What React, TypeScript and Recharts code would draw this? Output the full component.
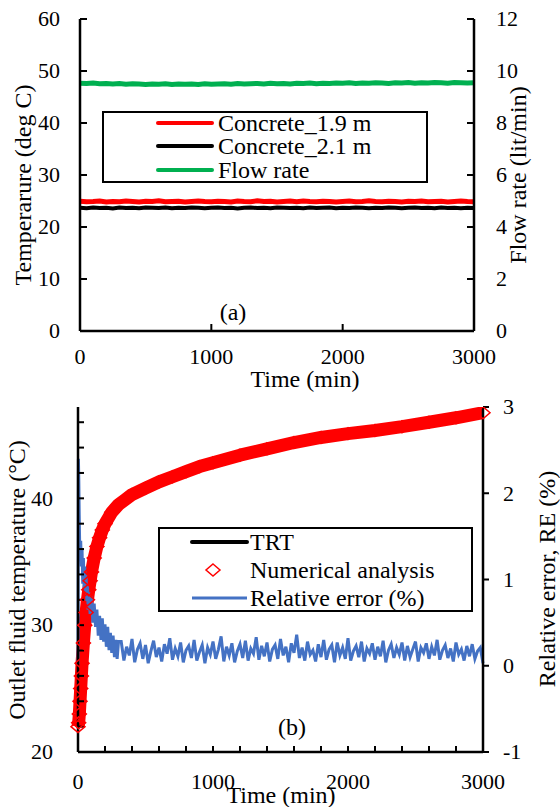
import React from 'react';
import { LineChart, Line, XAxis, YAxis, Legend } from 'recharts';

const FONT = '"Liberation Serif", "Times New Roman", serif';

// ---- (a) concrete temperature and flow rate
const timeA = [
  0, 50, 100, 150, 200, 250, 300, 350, 400, 450, 500, 550, 600, 650, 700, 750, 800, 850, 900, 950,
  1000, 1050, 1100, 1150, 1200, 1250, 1300, 1350, 1400, 1450, 1500, 1550, 1600, 1650, 1700, 1750,
  1800, 1850, 1900, 1950, 2000, 2050, 2100, 2150, 2200, 2250, 2300, 2350, 2400, 2450, 2500, 2550,
  2600, 2650, 2700, 2750, 2800, 2850, 2900, 2950, 3000,
];
const concrete19 = [
  24.95, 24.85, 24.9, 25.0, 24.8, 24.9, 24.85, 25.0, 24.9, 24.8,
  24.95, 24.9, 25.05, 24.85, 24.9, 24.95, 24.8, 24.9, 25.0, 24.9,
  24.85, 24.95, 24.9, 24.8, 25.0, 24.9, 24.85, 25.05, 24.9, 24.95,
  24.8, 24.9, 25.0, 24.85, 25.0, 24.9, 24.85, 24.95, 24.9, 24.8,
  24.9, 25.0, 24.85, 24.9, 25.05, 24.9, 24.85, 24.95, 24.9, 24.8,
  24.95, 24.9, 25.0, 24.85, 24.9, 24.95, 24.8, 24.9, 25.0, 24.9,
  24.85,
];
const concrete21 = [
  23.7, 23.6, 23.75, 23.65, 23.7, 23.55, 23.75, 23.65, 23.7, 23.6,
  23.75, 23.7, 23.65, 23.75, 23.6, 23.7, 23.65, 23.75, 23.7, 23.6,
  23.7, 23.75, 23.65, 23.7, 23.55, 23.7, 23.75, 23.65, 23.7, 23.6,
  23.75, 23.7, 23.65, 23.7, 23.6, 23.75, 23.65, 23.7, 23.75, 23.6,
  23.7, 23.65, 23.75, 23.7, 23.6, 23.7, 23.65, 23.75, 23.7, 23.6,
  23.7, 23.75, 23.65, 23.7, 23.6, 23.75, 23.65, 23.7, 23.6, 23.7,
  23.65,
];
const flowRate = [
  9.53, 9.52, 9.54, 9.51, 9.52, 9.5, 9.52, 9.49, 9.51, 9.5,
  9.48, 9.5, 9.49, 9.51, 9.48, 9.5, 9.49, 9.5, 9.48, 9.51,
  9.49, 9.5, 9.51, 9.49, 9.52, 9.5, 9.51, 9.52, 9.5, 9.53,
  9.51, 9.52, 9.5, 9.53, 9.52, 9.54, 9.51, 9.53, 9.52, 9.54,
  9.53, 9.55, 9.52, 9.54, 9.53, 9.55, 9.54, 9.52, 9.55, 9.54,
  9.56, 9.53, 9.55, 9.54, 9.56, 9.55, 9.53, 9.56, 9.55, 9.54,
  9.55,
];
const tempTicksA = [0, 10, 20, 30, 40, 50, 60];
const flowTicksA = [0, 2, 4, 6, 8, 10, 12];
const timeTicksA = [0, 1000, 2000, 3000];

// ---- (b) outlet temperature and relative error
const numTime = [
  0, 5, 10, 15, 20, 25, 30, 40, 50, 60, 70, 80, 90, 100, 120, 140, 160, 180, 200, 250, 300, 350,
  400, 500, 600, 700, 800, 900, 1000, 1200, 1400, 1600, 1800, 2000, 2200, 2400, 2600, 2800, 3000,
];
const numTemp = [
  22.0, 22.3, 23.0, 24.0, 25.0, 26.0, 27.0, 28.6, 30.0, 31.0, 32.0, 32.8, 33.5, 34.2, 35.3, 36.2,
  36.9, 37.5, 38.0, 38.9, 39.5, 39.9, 40.3, 40.8, 41.3, 41.7, 42.1, 42.5, 42.8, 43.4, 43.9, 44.4,
  44.8, 45.1, 45.35, 45.65, 46.0, 46.35, 46.75,
];
const trtTime = [0, 10, 20, 30, 40, 50, 60, 80, 100, 150, 200, 300, 400, 600, 800, 1000, 1500, 2000, 2500, 3000];
const trtTemp = [
  22.2, 23.2, 25.1, 27.2, 28.8, 30.1, 31.1, 32.9, 34.3, 36.7, 38.1, 39.6, 40.4, 41.4, 42.2, 42.9,
  44.2, 45.2, 46.0, 46.8,
];
const reTime = [
  0, 3, 6, 9, 12, 15, 20, 25, 30, 35, 40, 45, 50, 55, 60, 65, 70, 75, 80,
  90, 100, 110, 120, 130, 140, 150, 160, 170, 180, 190, 200, 210, 220, 230, 240, 250, 260, 270, 280, 290, 300,
  320, 340, 360, 380, 400, 420, 440, 460, 480, 500,
  520, 540, 560, 580, 600, 620, 640, 660, 680, 700,
  720, 740, 760, 780, 800, 820, 840, 860, 880, 900,
  920, 940, 960, 980, 1000, 1020, 1040, 1060, 1080, 1100,
  1120, 1140, 1160, 1180, 1200, 1220, 1240, 1260, 1280, 1300,
  1320, 1340, 1360, 1380, 1400, 1420, 1440, 1460, 1480, 1500,
  1520, 1540, 1560, 1580, 1600, 1620, 1640, 1660, 1680, 1700,
  1720, 1740, 1760, 1780, 1800, 1820, 1840, 1860, 1880, 1900,
  1920, 1940, 1960, 1980, 2000, 2020, 2040, 2060, 2080, 2100,
  2120, 2140, 2160, 2180, 2200, 2220, 2240, 2260, 2280, 2300,
  2320, 2340, 2360, 2380, 2400, 2420, 2440, 2460, 2480, 2500,
  2520, 2540, 2560, 2580, 2600, 2620, 2640, 2660, 2680, 2700,
  2720, 2740, 2760, 2780, 2800, 2820, 2840, 2860, 2880, 2900,
  2920, 2940, 2960, 2980, 3000,
];
const reValue = [
  0.02, 2.4, 2.15, 1.75, 1.45, 1.3, 1.45, 1.15, 1.35, 0.95, 1.25, 0.9, 1.15, 0.85, 1.05, 0.75, 0.95, 0.65, 0.85,
  0.6, 0.8, 0.5, 0.72, 0.45, 0.65, 0.35, 0.58, 0.3, 0.55, 0.28, 0.48, 0.22, 0.45, 0.18, 0.38, 0.15, 0.35, 0.1, 0.3, 0.08, 0.28,
  0.28, 0.06, 0.22, 0.12, 0.31, 0.04, 0.19, 0.26, 0.08, 0.24, 0.03, 0.17, 0.29, 0.1, 0.21,
  0.05, 0.25, 0.14, 0.32, 0.07, 0.2, 0.11, 0.27, 0.04, 0.18, 0.23, 0.09, 0.3, 0.06, 0.16,
  0.24, 0.03, 0.21, 0.13, 0.28, 0.08, 0.19, 0.34, 0.05, 0.22, 0.12, 0.26, 0.04, 0.17, 0.25,
  0.09, 0.29, 0.06, 0.2, 0.14, 0.33, 0.07, 0.23, 0.11, 0.27, 0.05, 0.19, 0.24, 0.08, 0.31,
  0.12, 0.22, 0.04, 0.26, 0.15, 0.36, 0.09, 0.21, 0.06, 0.28, 0.13, 0.18, 0.05, 0.25, 0.1,
  0.3, 0.07, 0.19, 0.24, 0.04, 0.27, 0.12, 0.21, 0.08, 0.32, 0.06, 0.17, 0.23, 0.1, 0.28,
  0.05, 0.2, 0.14, 0.26, 0.07, 0.22, 0.11, 0.29, 0.04, 0.18, 0.25, 0.09, 0.21, 0.13, 0.27,
  0.06, 0.23, 0.1, 0.19, 0.28, 0.05, 0.21, 0.15, 0.26, 0.08, 0.22, 0.12, 0.3, 0.07, 0.18,
  0.24, 0.09, 0.2, 0.05, 0.27, 0.13, 0.19, 0.06, 0.23, 0.11, 0.25, 0.08, 0.17, 0.21, 0.03,
];
const tempTicksB = [20, 22, 24, 26, 28, 30, 32, 34, 36, 38, 40, 42, 44, 46];
const tempLabelsB = [20, 30, 40];
const reTicksB = [-1, 0, 1, 2, 3];
const timeTicksB = [0, 200, 400, 600, 800, 1000, 1200, 1400, 1600, 1800, 2000, 2200, 2400, 2600, 2800, 3000];
const timeLabelsB = [0, 1000, 2000, 3000];

const dataA = timeA.map((t, i) => ({ t, c19: concrete19[i], c21: concrete21[i], flow: flowRate[i] }));
const numData = numTime.map((t, i) => ({ t, v: numTemp[i] }));
const trtData = trtTime.map((t, i) => ({ t, v: trtTemp[i] }));
const reData = reTime.map((t, i) => ({ t, v: reValue[i] }));

const axisLine = { stroke: '#000', strokeWidth: 2.5 };
const tickLine = { stroke: '#000', strokeWidth: 2 };

const tickText = (anchor: 'start' | 'middle' | 'end', show?: number[]) => (p: any) => {
  const v = p.payload.value;
  if (show && !show.includes(v)) return <g />;
  return (
    <text x={p.x} y={p.y} dy="0.33em" textAnchor={anchor} fontSize={22} fontFamily={FONT} fill="#000">
      {v}
    </text>
  );
};

const vTitle = (text: string, x: number, cy: number) => () => (
  <text
    x={x}
    y={cy}
    dy="0.35em"
    transform={`rotate(-90 ${x} ${cy})`}
    textAnchor="middle"
    fontSize={24}
    fontFamily={FONT}
    fill="#000"
  >
    {text}
  </text>
);

// x title plus the panel tag, both placed inside the chart svg
const hTitle = (text: string, cx: number, cy: number, tag: string, tx: number, ty: number) => () => (
  <g fontSize={24} fontFamily={FONT} fill="#000">
    <text x={cx} y={cy} dy="0.3em" textAnchor="middle">{text}</text>
    <text x={tx} y={ty} dy="0.3em" textAnchor="middle">{tag}</text>
  </g>
);

const Diamond = (p: any) => {
  const { cx, cy } = p;
  if (cx == null || cy == null) return <g />;
  return (
    <path
      d={`M${cx},${cy - 6} L${cx + 7},${cy} L${cx},${cy + 6} L${cx - 7},${cy} Z`}
      fill="none"
      stroke="#FF0000"
      strokeWidth={1.5}
    />
  );
};

const legendA = () => {
  const rows = [
    { label: 'Concrete_1.9 m', color: '#FF0000', y: 12 },
    { label: 'Concrete_2.1 m', color: '#000000', y: 35 },
    { label: 'Flow rate', color: '#00B050', y: 59 },
  ];
  return (
    <svg width={326} height={72} style={{ display: 'block' }}>
      <rect x={1} y={1} width={324} height={70} fill="#fff" stroke="#000" strokeWidth={2} />
      {rows.map((r) => (
        <g key={r.label}>
          <line x1={56} x2={110} y1={r.y} y2={r.y} stroke={r.color} strokeWidth={4} strokeLinecap="round" />
          <text x={116} y={r.y} dy="0.33em" fontSize={24} fontFamily={FONT} fill="#000">{r.label}</text>
        </g>
      ))}
    </svg>
  );
};

const legendB = () => (
  <svg width={315} height={85} style={{ display: 'block' }}>
    <rect x={1} y={1} width={313} height={83} fill="#fff" stroke="#000" strokeWidth={2} />
    <line x1={34} x2={89} y1={15} y2={15} stroke="#000" strokeWidth={4} strokeLinecap="round" />
    <text x={92} y={15} dy="0.33em" fontSize={24} fontFamily={FONT} fill="#000">TRT</text>
    <path d="M55,37 L62,43 L55,49 L48,43 Z" fill="none" stroke="#FF0000" strokeWidth={1.5} />
    <text x={92} y={43} dy="0.33em" fontSize={24} fontFamily={FONT} fill="#000">Numerical analysis</text>
    <line x1={34} x2={89} y1={71} y2={71} stroke="#4472C4" strokeWidth={3} />
    <text x={92} y={71} dy="0.33em" fontSize={24} fontFamily={FONT} fill="#000">Relative error (%)</text>
  </svg>
);

const App: React.FC = () => {
  return (
    <div style={{ position: 'absolute', left: 0, top: 0, width: 560, height: 807, background: '#fff', fontFamily: FONT }}>
      <div style={{ position: 'absolute', left: 0, top: 0 }}>
        <LineChart width={560} height={400} data={dataA} margin={{ top: 19, right: 0, bottom: 0, left: 0 }}>
          <XAxis xAxisId="top" orientation="top" type="number" dataKey="t" domain={[0, 3000]} height={0} tick={false} tickLine={false} axisLine={axisLine} />
          <XAxis
            type="number"
            dataKey="t"
            domain={[0, 3000]}
            ticks={timeTicksA}
            interval={0}
            height={69}
            tickSize={-7}
            tickMargin={33}
            tick={tickText('middle')}
            tickLine={tickLine}
            axisLine={axisLine}
            label={hTitle('Time (min)', 305, 380, '(a)', 233, 313)}
          />
          <YAxis
            yAxisId="left"
            domain={[0, 60]}
            ticks={tempTicksA}
            interval={0}
            width={80}
            tickSize={-7}
            tickMargin={27}
            tick={tickText('end')}
            tickLine={tickLine}
            axisLine={axisLine}
            label={vTitle('Temperarure (deg C)', 23, 185)}
          />
          <YAxis
            yAxisId="right"
            orientation="right"
            domain={[0, 12]}
            ticks={flowTicksA}
            interval={0}
            width={86}
            tickSize={-7}
            tickMargin={29}
            tick={tickText('start')}
            tickLine={tickLine}
            axisLine={axisLine}
            label={vTitle('Flow rate (lit/min)', 518, 175)}
          />
          <Line yAxisId="left" dataKey="c21" name="Concrete_2.1 m" stroke="#000000" strokeWidth={4} dot={false} isAnimationActive={false} />
          <Line yAxisId="left" dataKey="c19" name="Concrete_1.9 m" stroke="#FF0000" strokeWidth={5} dot={false} isAnimationActive={false} />
          <Line yAxisId="right" dataKey="flow" name="Flow rate" stroke="#00B050" strokeWidth={5} dot={false} isAnimationActive={false} />
          <Legend
            layout="vertical"
            align="center"
            verticalAlign="middle"
            content={legendA}
            wrapperStyle={{ left: 102, top: 111, width: 326, height: 72, margin: 0, padding: 0, lineHeight: 0 }}
          />
        </LineChart>
      </div>
      <div style={{ position: 'absolute', left: 0, top: 380 }}>
        <LineChart width={560} height={427} margin={{ top: 27, right: 0, bottom: 0, left: 0 }}>
          <XAxis xAxisId="top" orientation="top" type="number" dataKey="t" domain={[0, 3000]} height={0} tick={false} tickLine={false} axisLine={axisLine} />
          <XAxis
            type="number"
            dataKey="t"
            domain={[0, 3000]}
            ticks={timeTicksB}
            interval={0}
            height={55}
            tickSize={-6}
            tickMargin={36}
            tick={tickText('middle', timeLabelsB)}
            tickLine={tickLine}
            axisLine={axisLine}
            allowDuplicatedCategory={false}
            label={hTitle('Time (min)', 281, 416, '(b)', 292, 348)}
          />
          <YAxis
            yAxisId="left"
            domain={[20, 47.2]}
            allowDataOverflow
            ticks={tempTicksB}
            interval={0}
            width={78}
            tickSize={-6}
            tickMargin={31}
            tick={tickText('end', tempLabelsB)}
            tickLine={tickLine}
            axisLine={axisLine}
            label={vTitle('Outlet fluid temperature (°C)', 17, 200)}
          />
          <YAxis
            yAxisId="right"
            orientation="right"
            domain={[-1, 3]}
            allowDataOverflow
            ticks={reTicksB}
            interval={0}
            width={77}
            tickSize={6}
            tickMargin={14}
            tick={tickText('start')}
            tickLine={tickLine}
            axisLine={axisLine}
            label={vTitle('Relative error, RE (%)', 547, 199)}
          />
          <Line data={trtData} yAxisId="left" dataKey="v" name="TRT" stroke="#000000" strokeWidth={3} dot={false} isAnimationActive={false} />
          <Line
            data={numData}
            yAxisId="left"
            dataKey="v"
            name="Numerical analysis"
            stroke="#FF0000"
            strokeWidth={13}
            strokeLinejoin="round"
            dot={Diamond}
            isAnimationActive={false}
          />
          <Line data={reData} yAxisId="right" dataKey="v" name="Relative error (%)" stroke="#4472C4" strokeWidth={3} dot={false} isAnimationActive={false} />
          <Legend
            layout="vertical"
            align="center"
            verticalAlign="middle"
            content={legendB}
            wrapperStyle={{ left: 158, top: 147, width: 315, height: 85, margin: 0, padding: 0, lineHeight: 0 }}
          />
        </LineChart>
      </div>
    </div>
  );
};

export default App;
